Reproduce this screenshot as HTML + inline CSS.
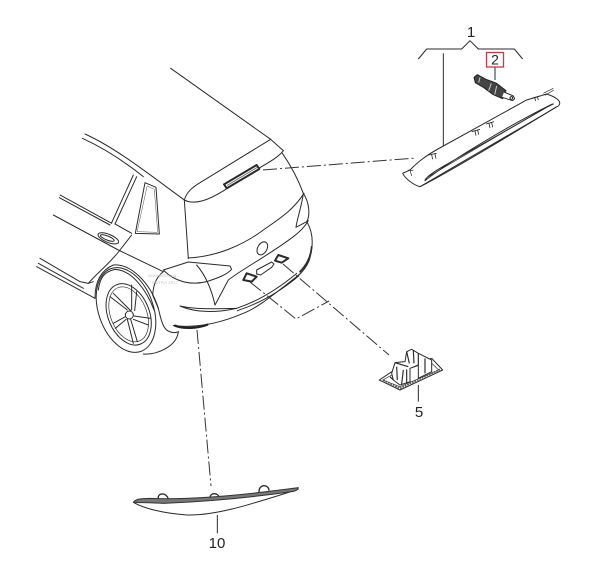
<!DOCTYPE html>
<html><head><meta charset="utf-8"><style>
html,body{margin:0;padding:0;background:#fff;width:600px;height:574px;overflow:hidden}
svg{display:block;filter:blur(.35px)}
text{font-family:"Liberation Sans",sans-serif;fill:#222}
</style></head><body>
<svg width="600" height="574" viewBox="0 0 600 574" xmlns="http://www.w3.org/2000/svg">
<rect width="600" height="574" fill="#fff"/>
<!-- Car (zoom1 coords) -->
<g transform="translate(30,60) scale(.33333)" fill="none" stroke="#2a2a2a" stroke-width="3" stroke-linejoin="round" stroke-linecap="round">
<path d="M422,25 L722,238 L760,272"/>
<path d="M463,420 C470,395 490,380 510,368 L722,238"/>
<path d="M463,420 C500,440 560,410 620,365 C680,325 740,300 760,272"/>
<path d="M757,280 C785,320 805,360 820,400"/>
<path d="M463,420 L475,595"/>
<path d="M474,594 C560,590 640,555 700,510 C750,475 790,450 822,400"/>
<path d="M820,400 C840,430 840,470 830,485 L798,502 C800,480 815,440 820,400"/>
<path d="M832,488 C850,520 850,560 838,600 C828,625 805,650 780,668"/>
<path d="M845,560 C843,590 830,615 810,635" stroke-width="5"/>
<path d="M400,630 L475,606 L600,618 L605,628 C590,645 560,655 530,665 C490,675 440,670 400,630"/>
<path d="M500,615 C530,650 545,690 555,735"/>
<path d="M555,735 L595,660 C640,625 710,590 790,530 C810,515 825,500 835,482"/>
<path d="M450,738 C500,760 560,758 620,745 C500,748 480,745 450,738Z"/>
<path d="M620,745 C680,725 740,690 800,640 M622,752 C690,730 750,695 806,648"/>
<path d="M430,797 C500,805 570,790 640,760 C680,745 720,712 800,650 C820,635 830,620 838,600"/>
<ellipse cx="697" cy="565" rx="14" ry="21" transform="rotate(30 697 565)"/>
<path d="M680,630 L725,606 L732,612 L725,622 L692,645 L680,642Z"/>
<path d="M650,640 L680,650 L665,665 L640,660Z" stroke-width="6"/>
<path d="M745,585 L775,595 L755,608 L735,602Z" stroke-width="6"/>
<path d="M582,373 L680,315 L688,327 L590,385Z" stroke-width="6" fill="#fff"/>
<path d="M592,376 L680,323" stroke-width="3" stroke="#777"/>
<path d="M435,797 C465,808 505,804 532,794" stroke-width="7" stroke="#222"/>
<!-- side -->
<path d="M165,222 C260,265 360,345 463,420"/>
<path d="M157,235 C230,268 290,310 340,350"/>
<path d="M345,368 L378,382 L388,522 L316,520Z"/>
<path d="M352,378 L373,388 L383,517 L322,515Z" stroke-width="1.500" stroke="#555"/>
<path d="M310,345 L245,488 M320,350 L255,492"/>
<path d="M90,405 L245,490 M88,413 L240,495 M255,492 L305,520"/>
<path d="M70,465 L265,570 L400,635"/>
<ellipse cx="235" cy="535" rx="33" ry="12" transform="rotate(22 235 535)"/>
<ellipse cx="232" cy="534" rx="22" ry="6" transform="rotate(22 232 534)"/>
<path d="M305,525 L270,570 C240,610 200,640 175,670"/>
<path d="M30,595 L150,665 L175,670 L190,665"/>
<path d="M20,620 L195,715 M25,610 L160,685"/>
<path d="M195,715 C195,660 215,630 250,615 C300,610 360,665 385,745 C392,775 398,800 410,810 C420,818 435,820 445,815"/>
<path d="M205,690 C210,650 225,635 255,628 C305,630 350,690 372,750"/>
<path d="M400,635 C375,655 370,680 368,705 L385,745"/>
<ellipse cx="288" cy="750" rx="82" ry="132" transform="rotate(-20 288 750)"/>
<ellipse cx="296" cy="763" rx="62" ry="96" transform="rotate(-22 296 763)"/>
<ellipse cx="296" cy="763" rx="54" ry="86" transform="rotate(-22 296 763)" stroke-width="2"/>
<circle cx="298" cy="765" r="12"/>
<path d="M292,750 L240,710 M302,752 L250,700 M305,750 L305,675 M314,752 L320,695 M312,768 L362,775 M310,778 L355,795 M302,778 L322,845 M292,778 L310,850 M286,770 L250,790 M288,778 L256,805"/>
<path d="M445,815 C440,860 380,885 340,882"/>
</g>
<!-- faint watermark -->
<text x="148" y="277" font-size="4.500" style="fill:#c8c8c8">www.partsouq</text>
<text x="152" y="284" font-size="4.500" style="fill:#c8c8c8">©ETKA 2017</text>
<!-- leaders -->
<g fill="none" stroke="#333" stroke-width="1" stroke-dasharray="14 3 2 3">
<path d="M263,170 L416,158"/>
<path d="M283,264 L389,355"/>
<path d="M250,282 L296,319 L329,301"/>
<path d="M197,330 L211,486"/>
</g>
<!-- Brake light (zoom2 coords) -->
<g transform="translate(380,20) scale(.33333)" fill="none" stroke="#2a2a2a" stroke-width="3" stroke-linejoin="round">
<path d="M115,117 L140,87 L245,87 L270,62 L295,87 L403,87 L428,117"/>
<path d="M190,100 L190,378"/>
<path d="M68,460 L90,450 C110,430 130,410 190,378 L440,240 L500,222 C530,232 548,245 535,258 L120,500 C100,495 75,475 68,460Z"/>
<path d="M135,480 C150,455 210,430 500,262 C520,252 525,250 515,253 C400,310 220,415 135,482Z" stroke-width="3"/>
<path d="M145,470 L505,258 M90,450 L95,468" stroke-width="2"/>
<path d="M120,500 C200,460 400,340 530,260" stroke-width="3"/>
<path d="M145,405 L170,400 M155,404 L158,418 M165,402 L168,416 M275,335 L300,328 M285,333 L288,347 M293,330 L296,344 M318,312 L342,305 M327,310 L330,324 M335,308 L338,322 M455,235 L480,228 M464,233 L467,243 M472,230 L475,240" stroke-width="2.500"/>
<path d="M85,450 L100,452 M490,220 L520,205 M495,226 L522,210" stroke-width="2"/>
<path d="M345,140 L345,180"/>
<!-- bulb -->
<path d="M282,172 L292,164 L318,178 L350,190 L378,212 L368,236 L340,224 L310,202 L286,188Z" fill="#444" stroke="#222"/>
<path d="M300,172 L296,188 M334,190 L326,212 M350,198 L344,224" stroke="#ccc" stroke-width="3"/>
<path d="M372,216 L400,228 L404,236 L398,242 L366,232" fill="#fff"/>
<circle cx="394" cy="234" r="4"/>
</g>
<rect x="486.500" y="52.500" width="17" height="14.500" fill="#fff" stroke="#c8384a" stroke-width="1.300"/>
<text x="495" y="64.500" font-size="14" text-anchor="middle">2</text>
<text x="471" y="37" font-size="15" text-anchor="middle">1</text>
<!-- Plate light (zoom3 coords) -->
<g transform="translate(350,330) scale(.33333)" fill="none" stroke="#2a2a2a" stroke-width="3" stroke-linejoin="round">
<path d="M88,150 L130,122 L245,85 L278,120 L150,180Z" fill="#fff"/>
<path d="M98,150 L135,130 L240,95 L266,120 L150,170Z" stroke-width="2"/>
<path d="M125,130 L135,98 L165,95 L170,65 L185,58 L205,70 L245,90 L245,125 L205,145 L205,105 L180,115 L180,155 L150,165 L130,150Z" fill="#fff"/>
<path d="M135,98 L175,110 M170,65 L178,100 M190,62 L192,100 M205,70 L205,105 M225,85 L225,130 M160,120 L155,162 M170,118 L170,160 M140,110 L142,150 M120,140 L130,150" stroke-width="3.500"/>
<path d="M100,150 L150,175 L270,118" stroke="#555" stroke-width="5" stroke-dasharray="5 3"/>
<path d="M205,165 L205,215"/>
</g>
<text x="419" y="417" font-size="15" text-anchor="middle">5</text>
<!-- Trim (zoom4 coords) -->
<g transform="translate(120,460) scale(.33333)" fill="none" stroke="#2a2a2a" stroke-width="3" stroke-linejoin="round">
<path d="M40,127 C70,145 130,160 200,165 C290,168 400,130 535,88" fill="#fff"/>
<path d="M115,115 C112,98 140,96 145,118 M270,114 C270,96 295,98 298,112 M417,98 C415,70 447,72 447,92" stroke-width="4"/>
<path d="M40,127 C45,118 60,115 90,115 C200,120 350,108 535,83 C535,88 530,92 520,94 C400,112 280,124 130,130 C90,128 60,128 40,127Z" fill="#777" stroke="#333"/>
<path d="M292,165 L292,220"/>
</g>
<text x="217" y="548" font-size="15" text-anchor="middle">10</text>
</svg>
</body></html>
